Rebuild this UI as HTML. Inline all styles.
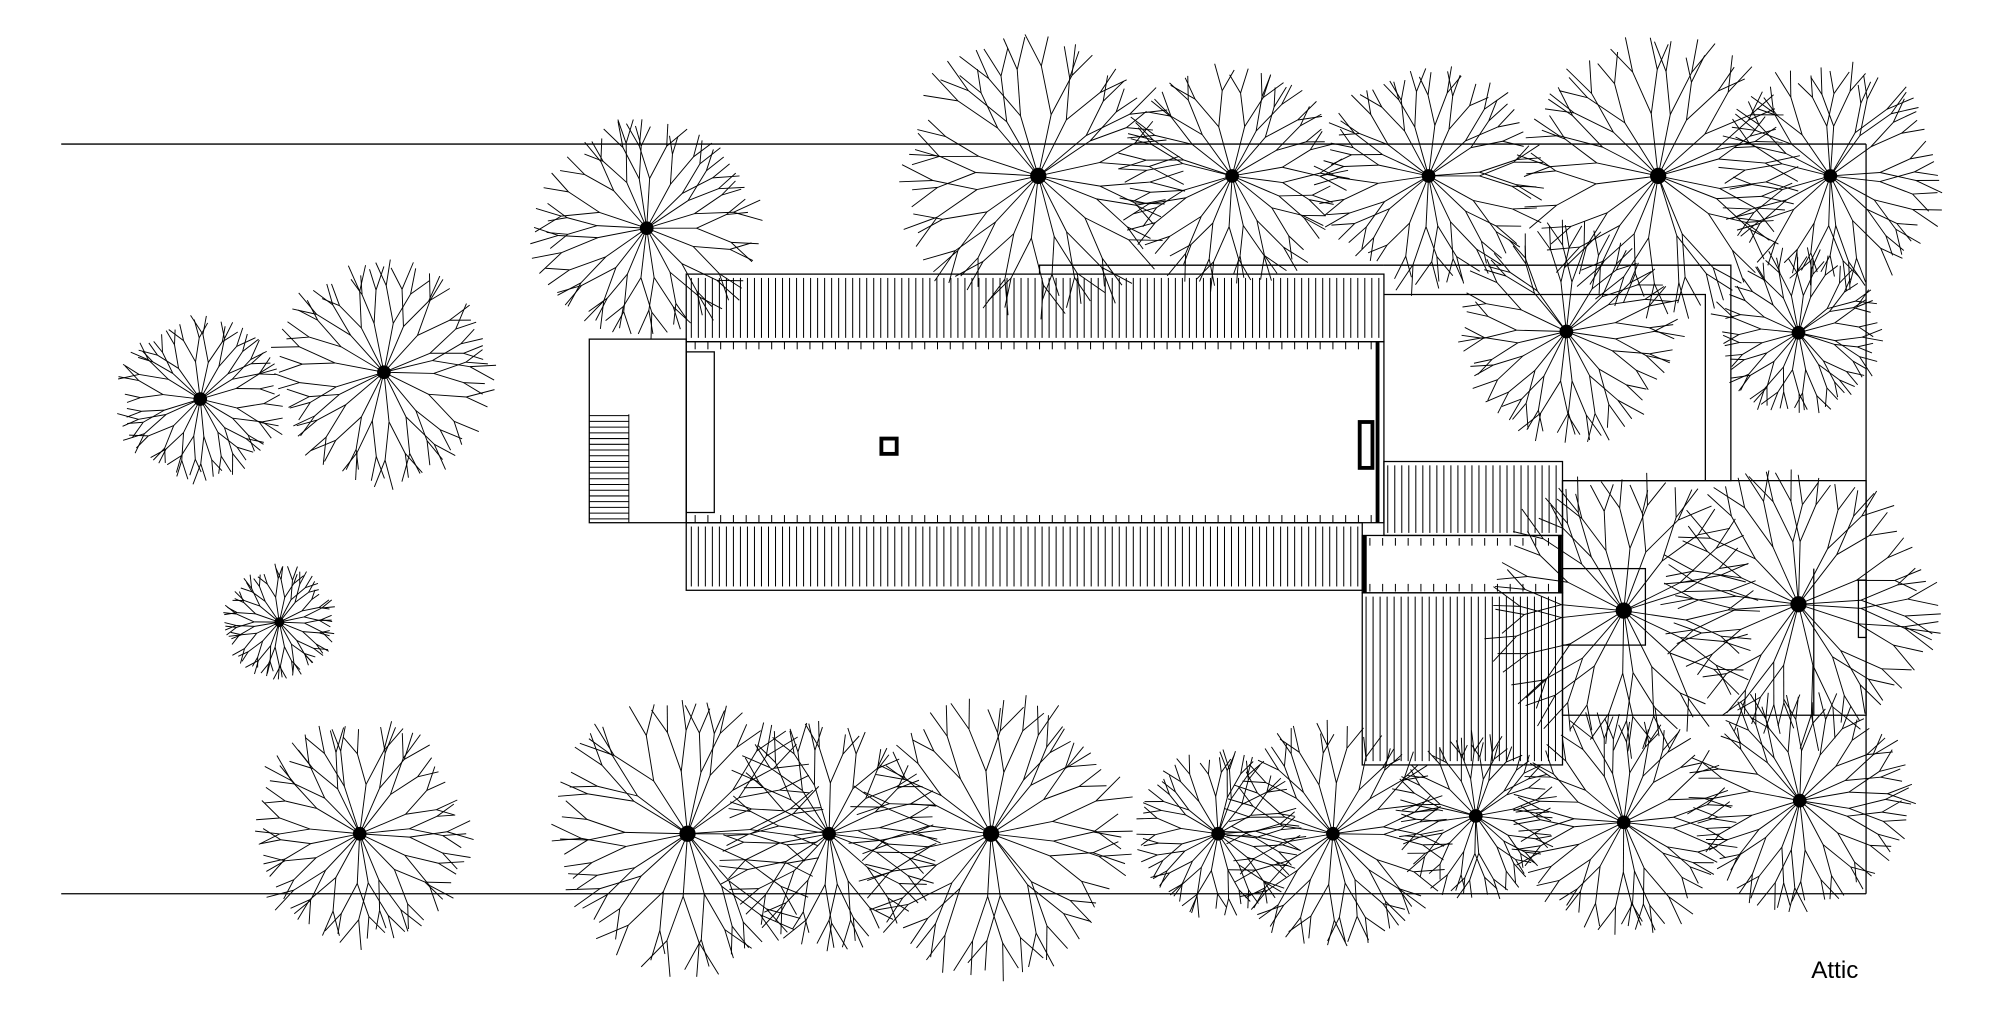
<!DOCTYPE html>
<html><head><meta charset="utf-8">
<style>html,body{margin:0;padding:0;background:#fff;width:2000px;height:1011px;overflow:hidden}
svg{display:block}</style></head>
<body>
<svg id="s" width="2000" height="1011" viewBox="0 0 1568 793" preserveAspectRatio="none" xmlns="http://www.w3.org/2000/svg">
<g fill="none" stroke="#000" stroke-width="1">
<line x1="48" y1="113" x2="1463" y2="113"/>
<line x1="48" y1="701" x2="1463" y2="701"/>
<line x1="1463" y1="113" x2="1463" y2="701"/>
<polyline points="1085,208 815,208 815,215"/>
<polyline points="1085,208 1357,208 1357,377 1225,377"/>
<polyline points="1085,231 1337,231 1337,377"/>
<rect x="1225" y="377" width="238" height="184"/>
<rect x="1225" y="446" width="65" height="60"/>
<line x1="1422" y1="446" x2="1422" y2="561"/>
<rect x="1457" y="455" width="6" height="45"/>
<rect x="538" y="215" width="547" height="53"/>
<rect x="538" y="268" width="547" height="142"/>
<rect x="538" y="410" width="530" height="53"/>
<rect x="462" y="266" width="76" height="144"/>
<rect x="538" y="276" width="22" height="126"/>
<rect x="1085" y="362" width="140" height="58"/>
<rect x="1068" y="420" width="157" height="45"/>
<rect x="1068" y="465" width="157" height="135"/>
<rect x="691" y="344" width="12" height="12" stroke-width="3"/>
<rect x="1066" y="331" width="10" height="36" stroke-width="3"/>
<line x1="1080" y1="268" x2="1080" y2="410" stroke-width="3"/>
<line x1="1070" y1="420" x2="1070" y2="465" stroke-width="3"/>
<line x1="1223" y1="420" x2="1223" y2="465" stroke-width="3"/>
</g>
<g id="h" stroke="#000" stroke-width="0.8"></g>
<g id="t" stroke="#000" stroke-width="0.75" fill="none"></g>
<text x="1420" y="767" font-family="Liberation Sans, sans-serif" font-size="19" fill="#000">Attic</text>
</svg>
<script>
var NS="http://www.w3.org/2000/svg",H=document.getElementById('h'),T=document.getElementById('t');
function L(g,a,b,c,d){var l=document.createElementNS(NS,'line');l.setAttribute('x1',a.toFixed(1));l.setAttribute('y1',b.toFixed(1));l.setAttribute('x2',c.toFixed(1));l.setAttribute('y2',d.toFixed(1));g.appendChild(l);}
function vh(x0,x1,y0,y1,s){for(var x=x0;x<=x1;x+=s)L(H,x,y0,x,y1);}
vh(542,1082,218,265,5.5);vh(542,1065,413,460,5.5);vh(1088,1222,365,418,5.5);vh(1071,1222,468,597,5.5);
for(var x=545;x<1080;x+=10){L(H,x,268,x,274);L(H,x,404,x,410);}
for(var x=1074;x<1222;x+=10){L(H,x,422,x,428);L(H,x,458,x,464);}
for(var y=326;y<410;y+=4.5)L(H,462,y,493,y);L(H,493,325,493,410);
var seed=7;function R(){seed=(seed*16807)%2147483647;return seed/2147483647;}
function br(x,y,a,len,d){var x2=x+Math.cos(a)*len,y2=y+Math.sin(a)*len;L(T,x,y,x2,y2);
 if(d>0){for(var i=0;i<2;i++){var da=(i?1:-1)*(0.2+R()*0.25);br(x2,y2,a+da,len*(0.6+R()*0.2),d-1);}}}
var trees=[[507,179,93],[157,313,70],[301,292,93],[219,488,47],[282,654,93],[539,654,117],[650,654,95],[777,654,117],[955,654,70],[1045,654,95],[1157,640,70],[1273,645,93],[1411,628,93],[814,138,117],[966,138,95],[1120,138,95],[1300,138,117],[1435,138,93],[1228,260,93],[1410,261,70],[1273,479,117],[1410,474,117]];
trees.forEach(function(t){var x=t[0],y=t[1],r=t[2],n=20;
 for(var i=0;i<n;i++){var a=i/n*Math.PI*2+R()*0.25;br(x,y,a,r*0.42,2);}
 var c=document.createElementNS(NS,'circle');c.setAttribute('cx',x);c.setAttribute('cy',y);c.setAttribute('r',r>100?6:r>60?5:3.5);c.setAttribute('fill','#000');T.appendChild(c);});
</script>
</body></html>
